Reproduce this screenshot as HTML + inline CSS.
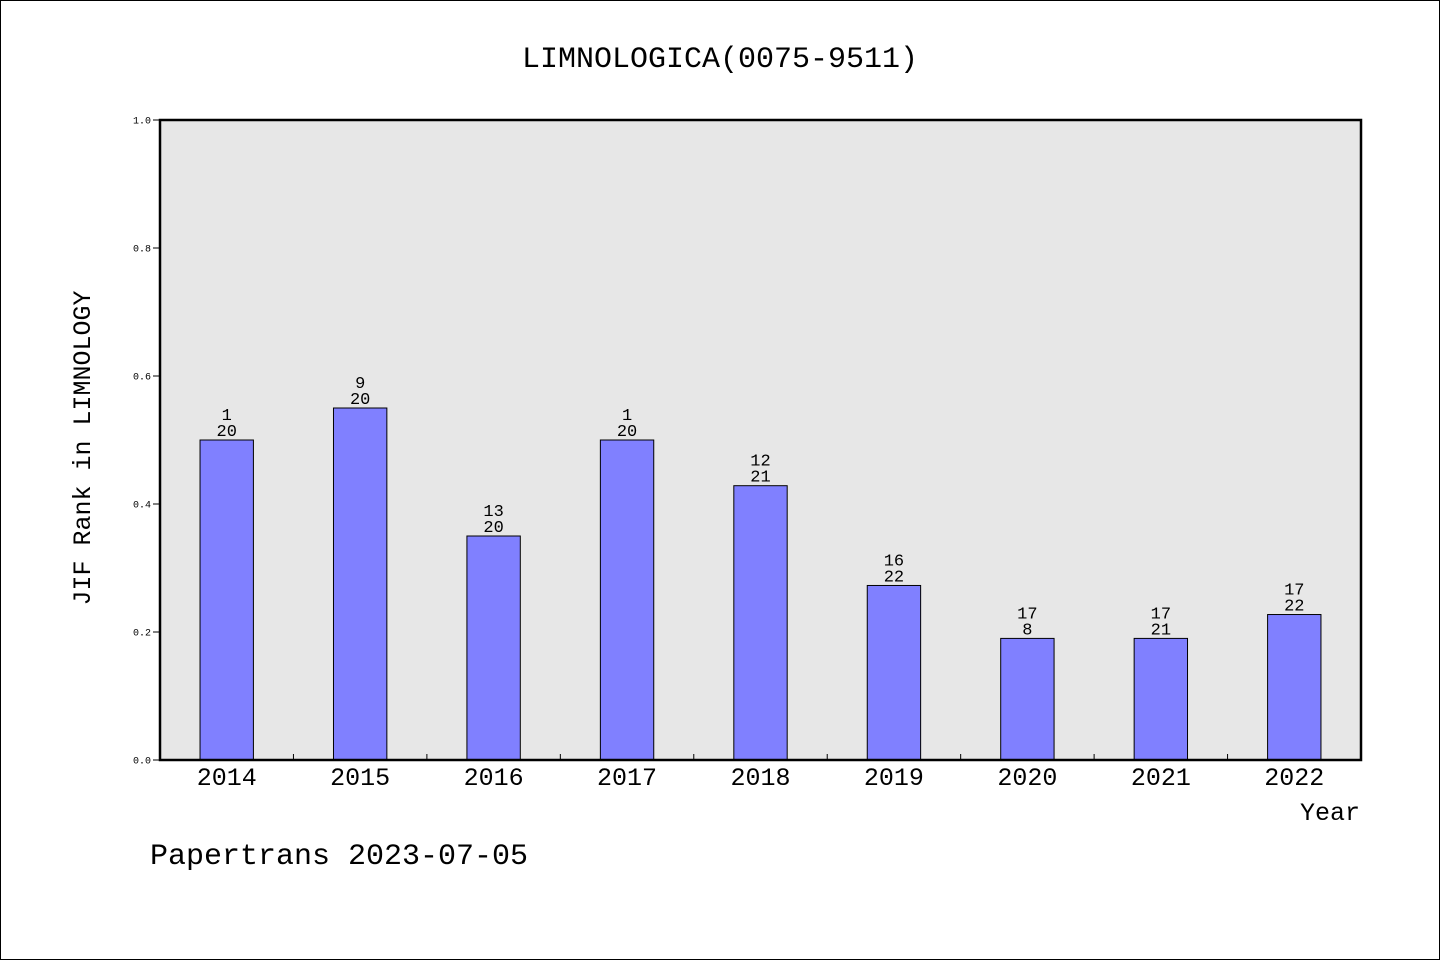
<!DOCTYPE html>
<html><head><meta charset="utf-8"><style>
html,body{margin:0;padding:0;background:#fff}
svg{display:block}
text{font-family:"Liberation Mono","WenQuanYi Zen Hei",monospace;fill:#000}
</style></head><body>
<svg width="1440" height="960" viewBox="0 0 1440 960">
<rect x="0.5" y="0.5" width="1439" height="959" fill="#fff" stroke="#000"/>
<text x="720" y="67" text-anchor="middle" font-size="30">LIMNOLOGICA(0075-9511)</text>
<rect x="160" y="120" width="1201" height="640" fill="#e7e7e7"/>
<g id="ticks"></g>
<g id="bars"></g>
<rect x="160" y="120" width="1201" height="640" fill="none" stroke="#000" stroke-width="2.5"/>
<text transform="translate(90,448) rotate(-90)" text-anchor="middle" font-size="25">JIF Rank in LIMNOLOGY</text>
<text x="1360" y="820" text-anchor="end" font-size="25">Year</text>
<text x="150" y="864" font-size="30">Papertrans 2023-07-05</text>
</svg>
<script>
const categories=["2014","2015","2016","2017","2018","2019","2020","2021","2022"];
const values=[0.5,0.55,0.35,0.5,0.4286,0.2727,0.19,0.19,0.2273];
const rankTop=["1","9","13","1","12","16","17","17","17"];
const rankBottom=["20","20","20","20","21","22","8","21","22"];
const yTicks=[0,0.2,0.4,0.6,0.8,1.0];
const NS="http://www.w3.org/2000/svg";
const X0=160,W=1201,Y0=760,H=640;
const band=W/categories.length;
const xc=i=>X0+band*(i+0.5);
const y=v=>Y0-v*H;
function mk(t,a,p){const e=document.createElementNS(NS,t);for(const k in a)e.setAttribute(k,a[k]);p.appendChild(e);return e;}
const tg=document.getElementById('ticks'),bg=document.getElementById('bars');
yTicks.forEach(v=>{
 const l=mk('line',{x1:153,x2:160,y1:y(v),y2:y(v),stroke:'#000'},tg);
 
 
 const t=mk('text',{x:151,y:y(v)+3.5,'text-anchor':'end','font-size':10},tg);
 
 
 t.textContent=v.toFixed(1);
});
for(let i=1;i<categories.length;i++){
 const l=mk('line',{x1:X0+band*i,x2:X0+band*i,y1:Y0,y2:Y0-6,stroke:'#000'},tg);
 
 
}
categories.forEach((c,i)=>{
 const bw=band*0.4,cx=xc(i);
 const r=mk('rect',{x:cx-bw/2,y:y(values[i]),width:bw,height:Y0-y(values[i]),fill:'#8080ff',stroke:'#000','stroke-width':1},bg);
 
 
 const t1=mk('text',{x:cx,y:y(values[i])-20,'text-anchor':'middle','font-size':17},bg);
 
 
 t1.textContent=rankTop[i];
 const t2=mk('text',{x:cx,y:y(values[i])-4,'text-anchor':'middle','font-size':17},bg);
 
 
 t2.textContent=rankBottom[i];
 const xl=mk('text',{x:cx,y:785,'text-anchor':'middle','font-size':25},bg);
 
 
 xl.textContent=c;
});
</script>
</body></html>
